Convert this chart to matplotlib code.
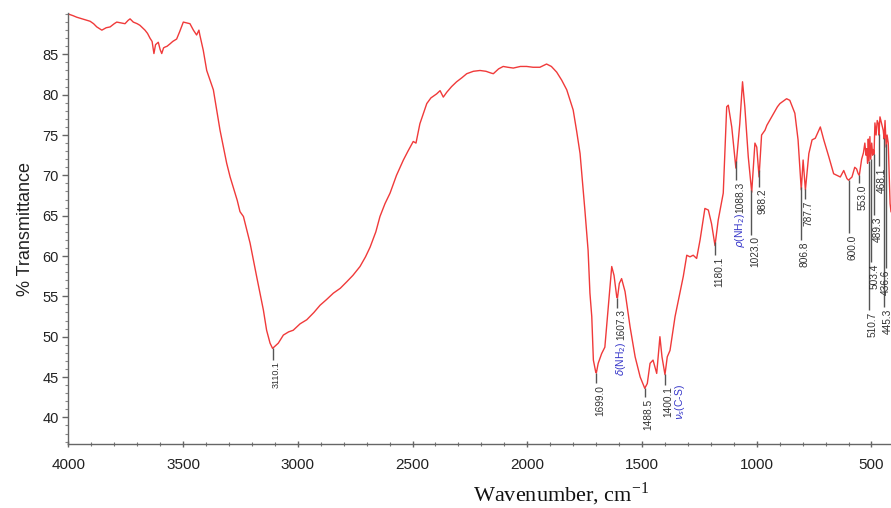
import numpy as np
import matplotlib
matplotlib.use("Agg")
import matplotlib.pyplot as plt
from matplotlib.ticker import MultipleLocator, FixedLocator

# ---- spectrum data (wavenumber, %T) ----
wavenumber = [4000, 3980, 3963, 3940, 3905, 3890, 3876, 3854, 3835, 3818, 3800, 3789, 3770, 3753,
              3740, 3731, 3717, 3700, 3688, 3666, 3655, 3644, 3635, 3627, 3620, 3608, 3600, 3593,
              3585, 3579, 3570, 3557, 3545, 3528, 3515, 3499, 3485, 3470, 3455, 3441, 3431, 3427,
              3412, 3397, 3368, 3339, 3310, 3295, 3264, 3252, 3237, 3208, 3179, 3150, 3136, 3121,
              3110, 3085, 3063, 3040, 3020, 2990, 2961, 2930, 2903, 2875, 2845, 2815, 2787, 2760,
              2729, 2705, 2685, 2660, 2642, 2620, 2598, 2570, 2540, 2520, 2497, 2485, 2468, 2438,
              2420, 2395, 2380, 2366, 2351, 2330, 2308, 2285, 2264, 2235, 2206, 2180, 2160, 2148,
              2125, 2105, 2085, 2061, 2030, 2003, 1975, 1945, 1916, 1895, 1872, 1850, 1828, 1810,
              1800, 1785, 1770, 1749, 1735, 1727, 1719, 1712, 1702, 1699, 1691, 1676, 1662, 1647,
              1632, 1622, 1610, 1607, 1599, 1589, 1574, 1552, 1530, 1508, 1488, 1477, 1465, 1452,
              1436, 1422, 1413, 1400, 1390, 1378, 1356, 1335, 1320, 1305, 1291, 1277, 1262, 1247,
              1226, 1211, 1197, 1182, 1168, 1146, 1131, 1124, 1109, 1091, 1074, 1062, 1052, 1037,
              1022, 1008, 1000, 990, 979, 964, 956, 934, 910, 899, 870, 856, 834, 820,
              810, 806, 798, 788, 773, 759, 745, 723, 708, 686, 665, 636, 621, 607,
              600, 585, 573, 565, 558, 553, 543, 535, 529, 524, 521, 517, 514, 510.7,
              507, 503.4, 499, 495, 492, 489, 485, 480, 475, 470, 468, 463, 456, 449,
              445, 441, 436, 432, 427, 419, 415]
transmittance = [90.0, 89.8, 89.6, 89.4, 89.1, 88.8, 88.4, 88.0, 88.3, 88.4, 88.8, 89.0, 88.9, 88.8,
                 89.2, 89.4, 89.0, 88.8, 88.6, 88.0, 87.6, 87.0, 86.6, 85.1, 86.2, 86.5, 85.6, 85.1,
                 85.8, 85.9, 86.0, 86.3, 86.6, 86.9, 87.8, 89.0, 88.9, 88.8, 88.0, 87.4, 88.0, 87.4,
                 85.5, 83.0, 80.6, 75.6, 71.5, 69.8, 66.9, 65.5, 64.9, 61.6, 57.4, 53.3, 50.8, 49.2,
                 48.55, 49.2, 50.2, 50.6, 50.8, 51.6, 52.1, 53.0, 53.9, 54.6, 55.4, 56.0, 56.8, 57.6,
                 58.7, 59.9, 61.1, 63.0, 64.9, 66.5, 67.8, 70.0, 71.9, 73.0, 74.2, 74.0, 76.4, 78.9,
                 79.6, 80.1, 80.5, 79.7, 80.3, 81.0, 81.6, 82.1, 82.6, 82.9, 83.0, 82.9, 82.7, 82.6,
                 83.2, 83.5, 83.4, 83.3, 83.5, 83.5, 83.4, 83.4, 83.8, 83.5, 82.8, 81.8, 80.6, 79.0,
                 78.1, 75.5, 72.7, 65.7, 60.7, 55.4, 52.5, 47.1, 45.65, 45.5, 46.7, 47.9, 48.7, 53.7,
                 58.7, 57.6, 54.9, 54.8, 56.6, 57.2, 55.6, 51.2, 47.5, 45.0, 43.6, 44.2, 46.7, 47.1,
                 45.45, 50.0, 47.5, 45.3, 47.5, 48.3, 52.5, 55.4, 57.5, 60.1, 59.9, 60.1, 59.7, 62.0,
                 65.9, 65.7, 64.0, 61.3, 64.45, 67.8, 78.5, 78.7, 76.0, 70.9, 76.4, 81.6, 78.5, 72.3,
                 67.9, 74.0, 73.5, 69.8, 75.0, 75.6, 76.2, 77.3, 78.5, 78.9, 79.5, 79.3, 77.7, 74.4,
                 70.0, 68.2, 71.9, 68.2, 72.7, 74.4, 74.6, 76.0, 74.4, 72.3, 70.2, 69.8, 70.6, 69.6,
                 69.4, 69.8, 71.0, 70.8, 70.2, 70.0, 72.0, 72.8, 74.0, 72.5, 73.3, 71.5, 74.5, 71.8,
                 74.8, 72.0, 74.0, 72.5, 73.2, 72.6, 76.5, 75.0, 76.8, 76.4, 75.0, 77.25, 76.4, 75.6,
                 74.5, 76.8, 73.5, 75.0, 74.0, 66.5, 65.5]

# ---- peak annotations ----
peak_positions = [3110.1, 1699.0, 1607.3, 1488.5, 1400.1, 1180.1, 1088.3, 1023.0, 988.2,
                  806.8, 787.7, 600.0, 553.0, 510.7, 503.4, 489.3, 468.1, 445.3, 436.6]
peak_labels = ["3110.1", "1699.0", "1607.3", "1488.5", "1400.1", "1180.1", "1088.3", "1023.0",
               "988.2", "806.8", "787.7", "600.0", "553.0", "510.7", "503.4", "489.3", "468.1",
               "445.3", "436.6"]
peak_line_end = [47.1, 44.2, 53.6, 42.5, 44.0, 60.1, 69.4, 62.6, 68.6,
                 62.0, 67.1, 62.8, 69.0, 53.3, 59.2, 65.1, 71.1, 53.7, 58.5]
# assignment labels (blue)
assign_after = {"1607.3": r"$\delta$(NH$_2$)", "1088.3": r"$\rho$(NH$_2$)"}
cs_label = r"$\nu_s$(C-S)"
cs_pos = (1335, 44.2)

x_ticks = [4000, 3500, 3000, 2500, 2000, 1500, 1000, 500]
y_ticks = [40, 45, 50, 55, 60, 65, 70, 75, 80, 85]

plt.rcParams['font.family'] = ['Liberation Sans', 'DejaVu Sans']

fig = plt.figure(figsize=(8.91, 5.08), dpi=100)
ax = fig.add_axes([0.0767, 0.126, 0.9233, 0.848])

wn = np.array(wavenumber, dtype=float)
tr = np.array(transmittance, dtype=float)
ax.plot(wn, tr, color='#f03a3a', lw=1.0)

ax.set_xlim(4000, 415)
ax.set_ylim(36.7, 90.1)

# peak marker lines and labels
order = np.argsort(wn)
for x, lab, yend in zip(peak_positions, peak_labels, peak_line_end):
    ytop = np.interp(x, wn[order], tr[order])
    ax.plot([x, x], [ytop, yend], color='#555555', lw=1.0, solid_capstyle='butt', clip_on=False)
    fs = 6.5 if lab == "3110.1" else 7.3
    dx = -0.5 if lab == "436.6" else 2.5
    ax.annotate(lab, xy=(x, yend), xytext=(dx, -1), textcoords='offset points',
                rotation=90, ha='center', va='top', fontsize=fs, color='#333333',
                annotation_clip=False)
    if lab in assign_after:
        ax.annotate(assign_after[lab], xy=(x, yend), xytext=(2.5, -24), textcoords='offset points',
                    rotation=90, ha='center', va='top', fontsize=7.5, color='#3535c8',
                    annotation_clip=False)

ax.text(cs_pos[0], cs_pos[1], cs_label, rotation=90, ha='center', va='top',
        fontsize=7.5, color='#3535c8')

# axes styling
for s in ['top', 'right']:
    ax.spines[s].set_visible(False)
for s in ['left', 'bottom']:
    ax.spines[s].set_color('#666666')
    ax.spines[s].set_linewidth(1.0)

ax.xaxis.set_major_locator(FixedLocator(x_ticks))
ax.xaxis.set_minor_locator(MultipleLocator(100))
ax.yaxis.set_major_locator(FixedLocator(y_ticks))
ax.yaxis.set_minor_locator(MultipleLocator(1))

ax.tick_params(axis='x', which='major', direction='inout', length=4, width=1, color='#666666',
               labelsize=11, labelcolor='#222222', pad=8)
ax.tick_params(axis='x', which='minor', direction='inout', length=3, width=0.8, color='#777777')
ax.tick_params(axis='y', which='major', direction='out', length=4, width=1, color='#666666',
               labelsize=10.5, labelcolor='#222222', pad=3)
ax.tick_params(axis='y', which='minor', direction='out', length=2, width=0.8, color='#888888')

ax.set_ylabel('% Transmittance', fontsize=13, color='#222222', labelpad=6)

fig.text(0.63, 0.028, r'Wavenumber, cm$^{\mathregular{-1}}$', family='Liberation Serif',
         fontsize=16, ha='center', va='center', color='#111111')

fig.savefig('out.png', dpi=100)
